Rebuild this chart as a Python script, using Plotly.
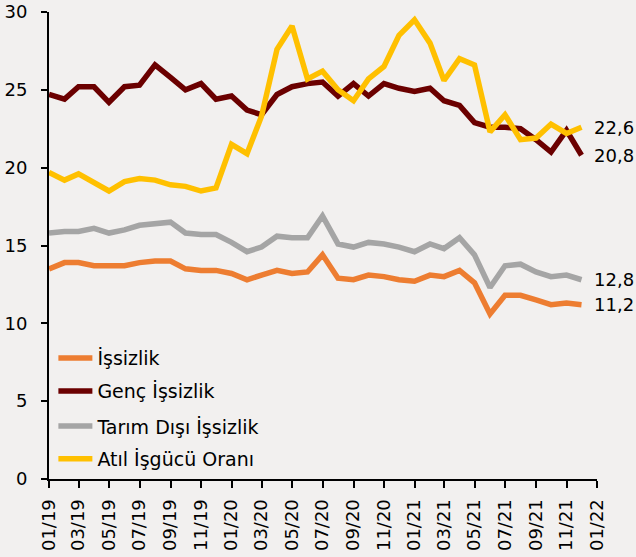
import pandas as pd
import plotly.graph_objects as go

months = pd.date_range("2019-01-01", periods=36, freq="MS")

issizlik = [13.5, 13.9, 13.9, 13.7, 13.7, 13.7, 13.9, 14.0, 14.0, 13.5, 13.4, 13.4,
            13.2, 12.8, 13.1, 13.4, 13.2, 13.3, 14.4, 12.9, 12.8, 13.1, 13.0, 12.8,
            12.7, 13.1, 13.0, 13.4, 12.6, 10.6, 11.8, 11.8, 11.5, 11.2, 11.3, 11.2]
genc_issizlik = [24.7, 24.4, 25.2, 25.2, 24.2, 25.2, 25.3, 26.6, 25.8, 25.0, 25.4, 24.4,
                 24.6, 23.7, 23.4, 24.7, 25.2, 25.4, 25.5, 24.6, 25.4, 24.6, 25.4, 25.1,
                 24.9, 25.1, 24.3, 24.0, 22.9, 22.6, 22.6, 22.5, 21.8, 21.0, 22.4, 20.8]
tarim_disi = [15.8, 15.9, 15.9, 16.1, 15.8, 16.0, 16.3, 16.4, 16.5, 15.8, 15.7, 15.7,
              15.2, 14.6, 14.9, 15.6, 15.5, 15.5, 16.9, 15.1, 14.9, 15.2, 15.1, 14.9,
              14.6, 15.1, 14.8, 15.5, 14.4, 12.3, 13.7, 13.8, 13.3, 13.0, 13.1, 12.8]
atil_isgucu = [19.7, 19.2, 19.6, 19.0, 18.5, 19.1, 19.3, 19.2, 18.9, 18.8, 18.5, 18.7,
               21.5, 20.9, 23.3, 27.6, 29.1, 25.7, 26.2, 25.0, 24.3, 25.7, 26.5, 28.5,
               29.5, 28.0, 25.6, 27.0, 26.6, 22.3, 23.4, 21.8, 21.9, 22.8, 22.2, 22.6]

series_names = ["İşsizlik", "Genç İşsizlik", "Tarım Dışı İşsizlik", "Atıl İşgücü Oranı"]
series_values = [issizlik, genc_issizlik, tarim_disi, atil_isgucu]
colors = ["#ED7D31", "#6B0000", "#A5A5A5", "#FFC000"]

y_ticks = [0, 5, 10, 15, 20, 25, 30]

FONT = "DejaVu Sans"
BG = "#F2F0EF"

legend_ids = ["legend", "legend2", "legend3", "legend4"]
legend_ys = [0.259, 0.188, 0.113, 0.043]

fig = go.Figure()
for name, vals, col, lid in zip(series_names, series_values, colors, legend_ids):
    fig.add_trace(go.Scatter(x=months, y=vals, name=name, mode="lines",
                             line=dict(color=col, width=5.5), legend=lid))

def fmt(v):
    return f"{v:.1f}".replace(".", ",")

for vals in series_values:
    fig.add_annotation(x=months[-1], y=vals[-1], text=fmt(vals[-1]), showarrow=False,
                       xanchor="left", yanchor="middle", xshift=10,
                       font=dict(family=FONT, size=18, color="#000000"))

legend_common = dict(x=0.008, xanchor="left", yanchor="middle", itemwidth=34,
                     bgcolor="rgba(0,0,0,0)", font=dict(family=FONT, size=19, color="#000"),
                     borderwidth=0)
layout_legends = {}
for lid, ly in zip(legend_ids, legend_ys):
    layout_legends[lid] = dict(legend_common, y=ly)

fig.update_layout(
    width=636, height=557,
    margin=dict(l=49, r=39, t=12, b=78),
    paper_bgcolor=BG, plot_bgcolor=BG,
    font=dict(family=FONT, size=18, color="#000000"),
    showlegend=True,
    **layout_legends,
    xaxis=dict(
        type="date", automargin=False,
        range=[months[0], pd.Timestamp("2022-01-01")],
        dtick="M2", tick0=months[0], tickformat="%m/%y",
        tickangle=-90, ticks="outside", ticklen=7, tickwidth=2, tickcolor="#000",
        showline=True, linecolor="#000", linewidth=2, showgrid=False, zeroline=False,
        tickfont=dict(family=FONT, size=18), ticklabelstandoff=4,
    ),
    yaxis=dict(
        automargin=False,
        range=[0, 30], tickvals=y_ticks, ticks="outside", ticklen=6, tickwidth=2,
        tickcolor="#000", showline=True, linecolor="#000", linewidth=2,
        showgrid=False, zeroline=False, tickfont=dict(family=FONT, size=18),
        ticklabelstandoff=10,
    ),
)

fig.write_html(
    "out.html",
    config={"displayModeBar": False},
    post_script="document.body.style.margin='0';document.body.style.background='" + BG + "';",
)
